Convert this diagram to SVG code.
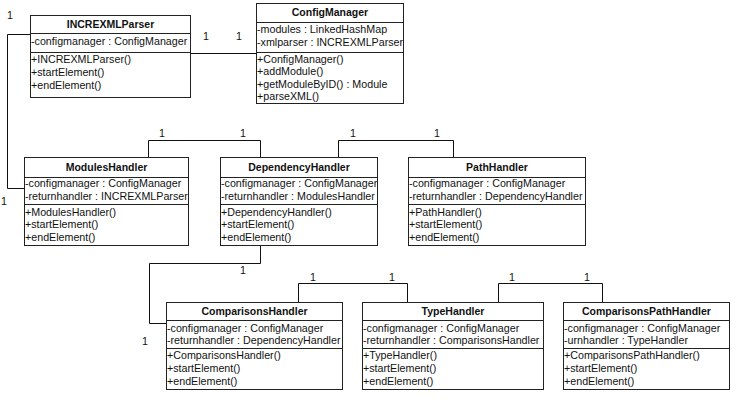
<svg xmlns="http://www.w3.org/2000/svg" width="731" height="400" viewBox="0 0 731 400">
<style>
text{font-family:"Liberation Sans",Arial,sans-serif;font-size:10.7px;fill:#111}
.h{font-weight:bold;text-anchor:middle;font-size:10.5px}
.b{fill:#fff;stroke:#222;stroke-width:1}
.d{stroke:#222;stroke-width:1}
.c{fill:none;stroke:#111;stroke-width:1}
</style>
<rect width="731" height="400" fill="#fff"/>
<g id="connectors">
<polyline class="c" points="190.5,53.5 256.5,53.5"/>
<polyline class="c" points="30.5,34.5 7.5,34.5 7.5,188.5 24.5,188.5"/>
<polyline class="c" points="148.5,157 148.5,140.5 260.5,140.5 260.5,157"/>
<polyline class="c" points="338.5,157 338.5,140.5 453.5,140.5 453.5,157"/>
<polyline class="c" points="260.5,245 260.5,263.5 149.5,263.5 149.5,323.5 166.5,323.5"/>
<polyline class="c" points="298.5,302 298.5,283.5 407.5,283.5 407.5,302"/>
<polyline class="c" points="498.5,302 498.5,283.5 602.5,283.5 602.5,302"/>
<text x="7" y="19">1</text>
<text x="203" y="40">1</text>
<text x="236" y="40">1</text>
<text x="1" y="205">1</text>
<text x="159" y="137">1</text>
<text x="240" y="137">1</text>
<text x="350" y="137">1</text>
<text x="434" y="137">1</text>
<text x="240" y="274">1</text>
<text x="142" y="345">1</text>
<text x="310" y="281">1</text>
<text x="389" y="281">1</text>
<text x="509" y="281">1</text>
<text x="584" y="281">1</text>
</g>
<g id="INCREXMLParser">
<rect class="b" x="30.5" y="15.5" width="160" height="82"/>
<line class="d" x1="30.5" y1="33.5" x2="190.5" y2="33.5"/>
<line class="d" x1="30.5" y1="52.5" x2="190.5" y2="52.5"/>
<text class="h" x="110.5" y="28">INCREXMLParser</text>
<text x="31" y="45">-configmanager : ConfigManager</text>
<text x="31" y="63">+INCREXMLParser()</text>
<text x="31" y="76">+startElement()</text>
<text x="31" y="89">+endElement()</text>
</g>
<g id="ConfigManager">
<rect class="b" x="256.5" y="3.5" width="147" height="100"/>
<line class="d" x1="256.5" y1="22.5" x2="403.5" y2="22.5"/>
<line class="d" x1="256.5" y1="52.5" x2="403.5" y2="52.5"/>
<text class="h" x="330" y="16">ConfigManager</text>
<text x="257" y="33">-modules : LinkedHashMap</text>
<text x="257" y="46">-xmlparser : INCREXMLParser</text>
<text x="257" y="63">+ConfigManager()</text>
<text x="257" y="75">+addModule()</text>
<text x="257" y="88">+getModuleByID() : Module</text>
<text x="257" y="100">+parseXML()</text>
</g>
<g id="ModulesHandler">
<rect class="b" x="24.5" y="157.5" width="164" height="88"/>
<line class="d" x1="24.5" y1="177.5" x2="188.5" y2="177.5"/>
<line class="d" x1="24.5" y1="204.5" x2="188.5" y2="204.5"/>
<text class="h" x="106.5" y="171">ModulesHandler</text>
<text x="25" y="187">-configmanager : ConfigManager</text>
<text x="25" y="200">-returnhandler : INCREXMLParser</text>
<text x="25" y="216">+ModulesHandler()</text>
<text x="25" y="228">+startElement()</text>
<text x="25" y="241">+endElement()</text>
</g>
<g id="DependencyHandler">
<rect class="b" x="220.5" y="157.5" width="157" height="88"/>
<line class="d" x1="220.5" y1="177.5" x2="377.5" y2="177.5"/>
<line class="d" x1="220.5" y1="204.5" x2="377.5" y2="204.5"/>
<text class="h" x="299" y="171">DependencyHandler</text>
<text x="221" y="187">-configmanager : ConfigManager</text>
<text x="221" y="200">-returnhandler : ModulesHandler</text>
<text x="221" y="216">+DependencyHandler()</text>
<text x="221" y="228">+startElement()</text>
<text x="221" y="241">+endElement()</text>
</g>
<g id="PathHandler">
<rect class="b" x="408.5" y="157.5" width="177" height="88"/>
<line class="d" x1="408.5" y1="177.5" x2="585.5" y2="177.5"/>
<line class="d" x1="408.5" y1="204.5" x2="585.5" y2="204.5"/>
<text class="h" x="497" y="171">PathHandler</text>
<text x="409" y="187">-configmanager : ConfigManager</text>
<text x="409" y="200">-returnhandler : DependencyHandler</text>
<text x="409" y="216">+PathHandler()</text>
<text x="409" y="228">+startElement()</text>
<text x="409" y="241">+endElement()</text>
</g>
<g id="ComparisonsHandler">
<rect class="b" x="166.5" y="302.5" width="176" height="87"/>
<line class="d" x1="166.5" y1="320.5" x2="342.5" y2="320.5"/>
<line class="d" x1="166.5" y1="348.5" x2="342.5" y2="348.5"/>
<text class="h" x="254.5" y="315">ComparisonsHandler</text>
<text x="167" y="332">-configmanager : ConfigManager</text>
<text x="167" y="344">-returnhandler : DependencyHandler</text>
<text x="167" y="359">+ComparisonsHandler()</text>
<text x="167" y="372">+startElement()</text>
<text x="167" y="385">+endElement()</text>
</g>
<g id="TypeHandler">
<rect class="b" x="362.5" y="302.5" width="181" height="87"/>
<line class="d" x1="362.5" y1="320.5" x2="543.5" y2="320.5"/>
<line class="d" x1="362.5" y1="348.5" x2="543.5" y2="348.5"/>
<text class="h" x="453" y="315">TypeHandler</text>
<text x="363" y="332">-configmanager : ConfigManager</text>
<text x="363" y="344">-returnhandler : ComparisonsHandler</text>
<text x="363" y="359">+TypeHandler()</text>
<text x="363" y="372">+startElement()</text>
<text x="363" y="385">+endElement()</text>
</g>
<g id="ComparisonsPathHandler">
<rect class="b" x="563.5" y="302.5" width="166" height="87"/>
<line class="d" x1="563.5" y1="320.5" x2="729.5" y2="320.5"/>
<line class="d" x1="563.5" y1="348.5" x2="729.5" y2="348.5"/>
<text class="h" x="646.5" y="315">ComparisonsPathHandler</text>
<text x="564" y="332">-configmanager : ConfigManager</text>
<text x="564" y="344">-urnhandler : TypeHandler</text>
<text x="564" y="359">+ComparisonsPathHandler()</text>
<text x="564" y="372">+startElement()</text>
<text x="564" y="385">+endElement()</text>
</g>
</svg>
